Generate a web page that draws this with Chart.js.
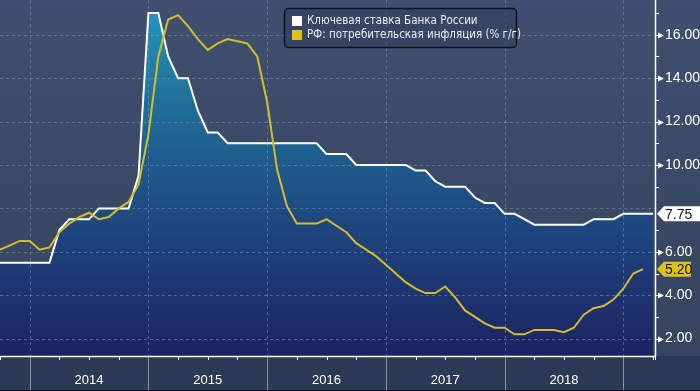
<!DOCTYPE html>
<html><head><meta charset="utf-8">
<script src="https://cdn.jsdelivr.net/npm/chart.js@4.4.1/dist/chart.umd.min.js"></script>
<style>html,body{margin:0;padding:0;background:#2c3954;}#wrap{width:700px;height:391px;position:relative;}</style>
</head><body><div id="wrap"><canvas id="c" width="700" height="391"></canvas></div>
<script>
// Month-end observations (YYYY-MM)
const rateMonths = [
 '2013-09','2013-10','2013-11','2013-12',
 '2014-01','2014-02','2014-03','2014-04','2014-05','2014-06','2014-07','2014-08','2014-09','2014-10','2014-11','2014-12',
 '2015-01','2015-02','2015-03','2015-04','2015-05','2015-06','2015-07','2015-08','2015-09','2015-10','2015-11','2015-12',
 '2016-01','2016-02','2016-03','2016-04','2016-05','2016-06','2016-07','2016-08','2016-09','2016-10','2016-11','2016-12',
 '2017-01','2017-02','2017-03','2017-04','2017-05','2017-06','2017-07','2017-08','2017-09','2017-10','2017-11','2017-12',
 '2018-01','2018-02','2018-03','2018-04','2018-05','2018-06','2018-07','2018-08','2018-09','2018-10','2018-11','2018-12',
 '2019-01','2019-02','2019-03'];
const keyRate = [
 5.5,5.5,5.5,5.5,
 5.5,5.5,7.0,7.5,7.5,7.5,8.0,8.0,8.0,8.0,9.5,17.0,
 17.0,15.0,14.0,14.0,12.5,11.5,11.5,11.0,11.0,11.0,11.0,11.0,
 11.0,11.0,11.0,11.0,11.0,10.5,10.5,10.5,10.0,10.0,10.0,10.0,
 10.0,10.0,9.75,9.75,9.25,9.0,9.0,9.0,8.5,8.25,8.25,7.75,
 7.75,7.5,7.25,7.25,7.25,7.25,7.25,7.25,7.5,7.5,7.5,7.75,
 7.75,7.75,7.75];
const inflMonths = rateMonths.slice(0, 66); // through 2019-02
const inflation = [
 6.1,6.3,6.5,6.5,
 6.1,6.2,6.9,7.3,7.6,7.8,7.5,7.6,8.0,8.3,9.1,11.4,
 15.0,16.7,16.9,16.4,15.8,15.3,15.6,15.8,15.7,15.6,15.0,12.9,
 9.8,8.1,7.3,7.3,7.3,7.5,7.2,6.9,6.4,6.1,5.8,5.4,
 5.0,4.6,4.3,4.1,4.1,4.4,3.9,3.3,3.0,2.7,2.5,2.5,
 2.2,2.2,2.4,2.4,2.4,2.3,2.5,3.1,3.4,3.5,3.8,4.3,
 5.0,5.2];
const yearLabels = ['2014','2015','2016','2017','2018'];
const yearMidMonths = ['2014-06','2015-06','2016-06','2017-06','2018-06'];
const yearBoundaries = ['2013-12','2014-12','2015-12','2016-12','2017-12','2018-12'];
const yTickValues = [2,3,4,5,6,7,8,9,10,11,12,13,14,15,16,17];
const yLabelled = [2,4,6,10,12,14,16];
const yGridValues = [2,4,6,8,10,12,14,16];
const seriesNames = ['Ключевая ставка Банка России','РФ: потребительская инфляция (% г/г)'];
const lastRate = 7.75, lastInfl = 5.20;

const toX = m => { const p = m.split('-').map(Number); return (p[0]-2014)*12 + p[1]; };
const WHITE = '#ffffff', YELLOW = '#d6bc2a', YELLOW_BOX = '#e2c210';

const deco = {
  id: 'deco',
  beforeDraw(chart) {
    const c = chart.ctx, a = chart.chartArea, W = chart.width, H = chart.height;
    c.save();
    const g = c.createLinearGradient(0, 0, 0, a.bottom);
    g.addColorStop(0, '#3f4f6f'); g.addColorStop(1, '#36445f');
    c.fillStyle = g; c.fillRect(0, 0, W, a.bottom);
    c.fillStyle = '#2c3954'; c.fillRect(0, a.bottom, W, H - a.bottom);
    c.fillStyle = '#0a0d14'; c.fillRect(0, H - 1, W, 1);
    c.restore();
  },
  beforeDatasetsDraw(chart) {
    const c = chart.ctx, a = chart.chartArea, xs = chart.scales.x, ys = chart.scales.y;
    c.save();
    c.strokeStyle = 'rgba(125,145,178,0.55)'; c.lineWidth = 1; c.setLineDash([3,3]);
    yGridValues.forEach(v => { const y = Math.round(ys.getPixelForValue(v)) + 0.5;
      c.beginPath(); c.moveTo(a.left, y); c.lineTo(a.right, y); c.stroke(); });
    yearBoundaries.forEach(m => { const x = Math.round(xs.getPixelForValue(toX(m))) + 0.5;
      c.beginPath(); c.moveTo(x, a.top); c.lineTo(x, a.bottom); c.stroke(); });
    c.restore();
  },
  afterDraw(chart) {
    const c = chart.ctx, a = chart.chartArea, xs = chart.scales.x, ys = chart.scales.y, H = chart.height;
    c.save();
    c.strokeStyle = '#8592a8'; c.lineWidth = 1;
    yearBoundaries.forEach(m => { const x = Math.round(xs.getPixelForValue(toX(m))) + 0.5;
      c.beginPath(); c.moveTo(x, a.bottom); c.lineTo(x, H - 1); c.stroke(); });
    c.strokeStyle = '#e8ecf2';
    rateMonths.forEach(m => { const mo = Number(m.split('-')[1]);
      if (mo % 3 === 0 && mo !== 12) { const x = Math.round(xs.getPixelForValue(toX(m))) + 0.5;
        c.beginPath(); c.moveTo(x, a.bottom); c.lineTo(x, a.bottom + 4); c.stroke(); } });
    c.beginPath(); c.moveTo(a.right + 0.5, a.bottom); c.lineTo(a.right + 0.5, a.bottom + 4); c.stroke();
    c.strokeStyle = WHITE; c.lineWidth = 1.5;
    c.beginPath(); c.moveTo(a.left, a.bottom + 0.5); c.lineTo(a.right + 1, a.bottom + 0.5); c.stroke();
    c.beginPath(); c.moveTo(a.right + 0.5, a.top); c.lineTo(a.right + 0.5, a.bottom + 0.5); c.stroke();
    c.lineWidth = 1; c.fillStyle = WHITE;
    yTickValues.forEach(v => { const y = Math.round(ys.getPixelForValue(v)) + 0.5;
      if (yLabelled.includes(v)) {
        c.beginPath(); c.moveTo(a.right, y - 0.5); c.lineTo(a.right + 3, y - 0.5); c.lineTo(a.right + 3, y - 3);
        c.lineTo(a.right + 9, y); c.lineTo(a.right + 3, y + 3); c.lineTo(a.right + 3, y + 0.5); c.lineTo(a.right, y + 0.5); c.closePath(); c.fill();
      } else if (v % 2 === 1) {
        c.beginPath(); c.moveTo(a.right, y); c.lineTo(a.right + 4, y); c.stroke();
      }
    });
    const tag = (v, fill, w) => {
      const y = ys.getPixelForValue(v), x0 = a.right + 2, h = 15;
      c.fillStyle = fill;
      c.beginPath(); c.moveTo(x0, y); c.lineTo(x0 + 7, y - h/2); c.lineTo(x0 + w, y - h/2);
      c.lineTo(x0 + w, y + h/2); c.lineTo(x0 + 7, y + h/2); c.closePath(); c.fill();
      c.fillStyle = '#111'; c.font = '14px "Liberation Sans", Arial, sans-serif';
      c.textBaseline = 'middle'; c.textAlign = 'left';
      c.fillText(v.toFixed(2), x0 + 8, y + 1);
    };
    tag(lastRate, WHITE, 50);
    tag(lastInfl, YELLOW_BOX, 34);
    c.beginPath();
    if (c.roundRect) c.roundRect(284.5, 8.5, 232, 39, 4); else c.rect(284.5, 8.5, 232, 39);
    c.fillStyle = 'rgba(48,62,92,0.55)'; c.fill();
    c.strokeStyle = '#0d1119'; c.lineWidth = 1.5; c.stroke();
    c.fillStyle = WHITE; c.fillRect(292, 16, 10, 10);
    c.fillStyle = YELLOW_BOX; c.fillRect(292, 30, 10, 10);
    c.fillStyle = '#ececec'; c.font = '11.5px "DejaVu Sans Condensed", "Liberation Sans", Arial, sans-serif';
    c.textBaseline = 'middle'; c.textAlign = 'left';
    c.fillText(chart.data.datasets[0].label, 307, 21.5);
    c.fillText(chart.data.datasets[1].label, 307, 35.5);
    c.restore();
  }
};

const fillGrad = (ctx) => {
  const ch = ctx.chart, a = ch.chartArea;
  if (!a) return 'rgba(31,100,150,1)';
  const g = ch.ctx.createLinearGradient(0, a.top, 0, a.bottom);
  g.addColorStop(0, '#2797bd');
  g.addColorStop(0.3, '#1f6e97');
  g.addColorStop(0.62, '#1e4880');
  g.addColorStop(1, '#1b2462');
  return g;
};

new Chart(document.getElementById('c'), {
  type: 'line',
  data: { datasets: [
    { label: seriesNames[0], data: rateMonths.map((m, i) => ({x: toX(m), y: keyRate[i]})),
      borderColor: WHITE, borderWidth: 2, backgroundColor: fillGrad, fill: 'start',
      pointRadius: 0, tension: 0, order: 2 },
    { label: seriesNames[1], data: inflMonths.map((m, i) => ({x: toX(m), y: inflation[i]})),
      borderColor: YELLOW, borderWidth: 2, fill: false, pointRadius: 0, tension: 0, order: 1 }
  ]},
  options: {
    responsive: false, animation: false, devicePixelRatio: 1,
    layout: { padding: 0 },
    plugins: { legend: { display: false }, tooltip: { enabled: false },
      filler: { drawTime: 'beforeDatasetsDraw' } },
    scales: {
      x: { type: 'linear', min: -3, max: 63.2, position: 'bottom',
        grid: { display: false, drawTicks: false }, border: { display: false },
        afterFit: s => { s.height = 35; s.paddingLeft = 0; s.paddingRight = 0; },
        afterBuildTicks: s => { s.ticks = yearMidMonths.map(m => ({ value: toX(m) })); },
        ticks: { autoSkip: false, maxRotation: 0, padding: 17, color: WHITE,
          font: { family: '"Liberation Sans Narrow", "Liberation Sans", Arial', size: 13 },
          callback: v => { const i = yearMidMonths.findIndex(m => toX(m) === v); return i >= 0 ? yearLabels[i] : ''; } } },
      y: { type: 'linear', position: 'right', min: 1.2, max: 17.6,
        grid: { display: false, drawTicks: false }, border: { display: false },
        afterFit: s => { s.width = 45; s.paddingTop = 0; s.paddingBottom = 0; },
        afterBuildTicks: s => { s.ticks = yTickValues.map(v => ({ value: v })); },
        ticks: { autoSkip: false, padding: 10, color: WHITE,
          font: { family: '"Liberation Sans", Arial', size: 14 },
          callback: v => yLabelled.includes(v) ? v.toFixed(2) : '' } }
    }
  },
  plugins: [deco]
});
</script></body></html>
